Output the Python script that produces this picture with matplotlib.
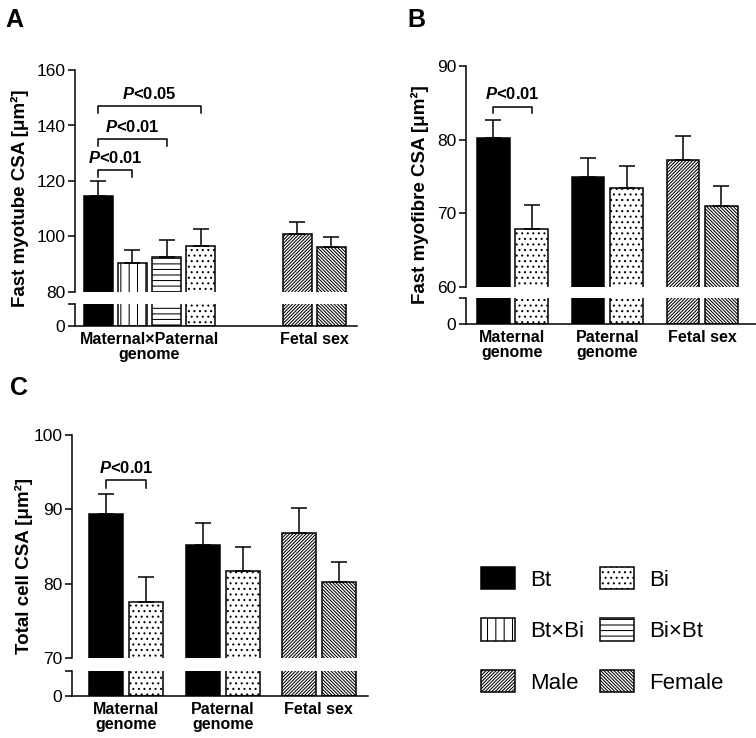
import matplotlib
matplotlib.use('Agg')
import matplotlib.pyplot as plt
from matplotlib.patches import Patch
import numpy as np

plt.rcParams['font.family'] = ['Liberation Sans', 'DejaVu Sans']
plt.rcParams['mathtext.fontset'] = 'custom'
plt.rcParams['mathtext.it'] = 'Liberation Sans:italic:bold'
plt.rcParams['mathtext.rm'] = 'Liberation Sans:bold'
plt.rcParams['hatch.linewidth'] = 0.75

W, H = 756, 738

# --- data -------------------------------------------------------------
# panel A: fast myotube CSA
a_groups = ['Bt', 'Bt×Bi', 'Bi×Bt', 'Bi', 'Male', 'Female']
a_means = [114.5, 90.4, 92.6, 96.5, 101.0, 96.3]
a_sem = [5.5, 4.8, 6.2, 6.1, 4.3, 3.5]
a_xlabels = ['Maternal×Paternal\ngenome', 'Fetal sex']
a_yticks = [80, 100, 120, 140, 160]

# panel B: fast myofibre CSA
b_groups = ['Bt', 'Bi', 'Bt', 'Bi', 'Male', 'Female']
b_means = [80.2, 67.9, 74.9, 73.5, 77.2, 71.0]
b_sem = [2.5, 3.2, 2.6, 2.9, 3.25, 2.65]
b_xlabels = ['Maternal\ngenome', 'Paternal\ngenome', 'Fetal sex']
b_yticks = [60, 70, 80, 90]

# panel C: total cell CSA
c_groups = ['Bt', 'Bi', 'Bt', 'Bi', 'Male', 'Female']
c_means = [89.4, 77.5, 85.2, 81.75, 86.8, 80.2]
c_sem = [2.7, 3.4, 2.9, 3.15, 3.4, 2.7]
c_xlabels = ['Maternal\ngenome', 'Paternal\ngenome', 'Fetal sex']
c_yticks = [70, 80, 90, 100]

# significance brackets: (bar i, bar j, height, label)
a_sig = [(0, 1, 124, 'P<0.01'), (0, 2, 135, 'P<0.01'), (0, 3, 147, 'P<0.05')]
b_sig = [(0, 1, 84.5, 'P<0.01')]
c_sig = [(0, 1, 93.9, 'P<0.01')]

styles = {
    'Bt': ('black', ''),
    'Bi': ('white', '...'),
    'Bt×Bi': ('white', '||'),
    'Bi×Bt': ('white', '---'),
    'Male': ('white', '/' * 10),
    'Female': ('white', '\\' * 10),
}


def px_rect(x0, y0, x1, y1):
    # pixel box (top-left origin) -> figure fraction rect
    return [x0 / W, 1 - y1 / H, (x1 - x0) / W, (y1 - y0) / H]


def positions(sizes, gap):
    pos = []
    start = 0.0
    for n in sizes:
        pos += [start + i for i in range(n)]
        start += n - 1 + gap
    return np.array(pos)


def panel(fig, upper_px, lower_px, groups, means, sem, sizes, gap, xlim,
          yticks, xlabels, ylabel, ylabel_x, sig, leg):
    ax = fig.add_axes(px_rect(*upper_px))
    axl = fig.add_axes(px_rect(*lower_px))
    x = positions(sizes, gap)
    width = 0.85
    for a in (ax, axl):
        for xi, g, m in zip(x, groups, means):
            fc, hatch = styles[g]
            a.bar(xi, m, width=width, color=fc, edgecolor='black',
                  hatch=hatch, linewidth=1.1, zorder=2)
        a.set_xlim(*xlim)
        a.spines['top'].set_visible(False)
        a.spines['right'].set_visible(False)
        a.spines['left'].set_linewidth(1.1)
        a.spines['bottom'].set_linewidth(1.1)
        a.tick_params(axis='y', direction='out', length=5, width=1.1,
                      labelsize=12.5, pad=2)
    ax.errorbar(x, means, yerr=[np.zeros(len(sem)), sem], fmt='none',
                ecolor='black', elinewidth=1.1, capsize=5.5, capthick=1.1,
                zorder=3)
    ax.set_ylim(yticks[0], yticks[-1])
    ax.set_yticks(yticks)
    ax.spines['bottom'].set_visible(False)
    ax.set_xticks([])

    axl.set_ylim(0, 1)
    axl.set_yticks([0, 1])
    axl.set_yticklabels(['0', ''])
    starts = np.cumsum([0] + sizes[:-1])
    centers = [x[s:s + n].mean() for s, n in zip(starts, sizes)]
    axl.set_xticks(centers)
    axl.set_xticklabels(xlabels, fontsize=11.5, fontweight='bold',
                        linespacing=1.0)
    axl.tick_params(axis='x', length=0, pad=4)

    yspan = (upper_px[1] + lower_px[3]) / 2
    fig.text(ylabel_x / W, 1 - yspan / H, ylabel, rotation=90, ha='center',
             va='center', fontsize=13.5, fontweight='bold')

    for i, j, h, lab in sig:
        ax.plot([x[i], x[i], x[j], x[j]], [h - leg, h, h, h - leg],
                color='black', lw=1.1, clip_on=False)
        ax.annotate('$P$' + lab[1:], ((x[i] + x[j]) / 2, h),
                    xytext=(0, 3), textcoords='offset points', ha='center',
                    va='bottom', fontsize=12, fontweight='bold')
    return ax, axl


fig = plt.figure(figsize=(W / 100, H / 100), dpi=100)

panel(fig, (75, 70, 357, 292), (75, 304, 357, 326), a_groups, a_means, a_sem,
      [4, 2], 2.85, (-0.69, 7.6), a_yticks, a_xlabels,
      'Fast myotube CSA [μm²]', 20, a_sig, 2.5)
panel(fig, (466, 66, 756, 287), (466, 298, 756, 324), b_groups, b_means, b_sem,
      [2, 2, 2], 1.47, (-0.71, 6.84), b_yticks, b_xlabels,
      'Fast myofibre CSA [μm²]', 420, b_sig, 0.9)
panel(fig, (72, 435, 368, 658), (72, 671, 368, 696), c_groups, c_means, c_sem,
      [2, 2, 2], 1.41, (-0.86, 6.55), c_yticks, c_xlabels,
      'Total cell CSA [μm²]', 24, c_sig, 1.0)

for letter, (lx, ly) in zip('ABC', [(5, 8), (407, 8), (10, 376)]):
    fig.text(lx / W, 1 - ly / H, letter, fontsize=18, fontweight='bold',
             ha='left', va='top')

legend_order = ['Bt', 'Bt×Bi', 'Male', 'Bi', 'Bi×Bt', 'Female']
handles = [Patch(facecolor=styles[g][0], edgecolor='black', hatch=styles[g][1],
                 linewidth=1.1, label=g) for g in legend_order]
fig.legend(handles=handles, ncol=2, loc='upper left',
           bbox_to_anchor=(481 / W, 1 - 567 / H), frameon=False,
           fontsize=16, handlelength=1.53, handleheight=1.17,
           handletextpad=0.68, labelspacing=1.25, columnspacing=0.73,
           borderpad=0, borderaxespad=0)

fig.savefig('out.png', dpi=100)
